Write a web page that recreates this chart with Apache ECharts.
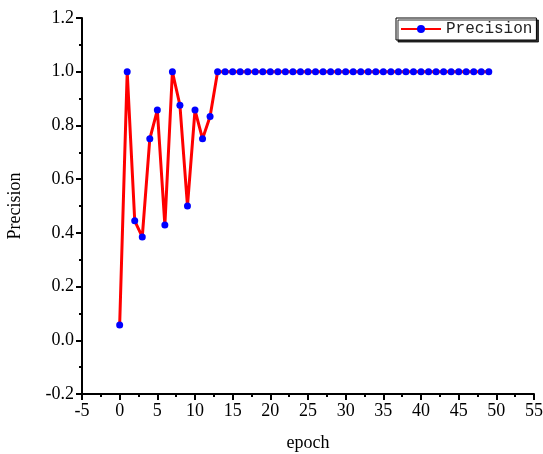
<!DOCTYPE html>
<html><head><meta charset="utf-8">
<script src="https://cdn.jsdelivr.net/npm/echarts@6/dist/echarts.min.js"></script>
<style>html,body{margin:0;padding:0;background:#fff}#c{width:543px;height:454px}</style>
</head><body><div id="c"></div>
<script>
const epochs = [];
for (let i = 0; i < 50; i++) epochs.push(i);
const precision = [0.057, 1.0, 0.445, 0.385, 0.75, 0.857, 0.429, 1.0, 0.875, 0.5,
  0.857, 0.75, 0.833, 1.0, 1.0, 1.0, 1.0, 1.0, 1.0, 1.0,
  1.0, 1.0, 1.0, 1.0, 1.0, 1.0, 1.0, 1.0, 1.0, 1.0,
  1.0, 1.0, 1.0, 1.0, 1.0, 1.0, 1.0, 1.0, 1.0, 1.0,
  1.0, 1.0, 1.0, 1.0, 1.0, 1.0, 1.0, 1.0, 1.0, 1.0];
const seriesName = 'Precision';
const xName = 'epoch';
const yName = 'Precision';

const chart = echarts.init(document.getElementById('c'), null, {renderer: 'canvas'});
const font = 'Liberation Serif';
chart.setOption({
  animation: false,
  backgroundColor: '#fff',
  grid: {left: 82, right: 9, top: 18, bottom: 60, containLabel: false, outerBoundsMode: 'none'},
  legend: {
    show: true,
    left: 396, top: 18,
    padding: [3, 4, 3, 4],
    itemWidth: 40, itemHeight: 10, itemGap: 6,
    backgroundColor: '#fff',
    borderColor: '#000', borderWidth: 1,
    shadowColor: 'rgba(0,0,0,0.8)', shadowOffsetX: 2, shadowOffsetY: 2, shadowBlur: 0,
    textStyle: {fontFamily: 'Liberation Mono', fontSize: 16, color: '#222'},
    data: [seriesName]
  },
  xAxis: {
    type: 'value', min: -5, max: 55, interval: 5,
    name: xName, nameLocation: 'middle', nameGap: 40,
    nameTextStyle: {fontFamily: font, fontSize: 18, color: '#000'},
    axisLine: {show: true, onZero: false, lineStyle: {color: '#000', width: 2}},
    axisTick: {show: true, inside: false, length: 6, lineStyle: {color: '#000', width: 2}},
    minorTick: {show: true, splitNumber: 2, length: 3, lineStyle: {color: '#000', width: 2}},
    splitLine: {show: false},
    axisLabel: {fontFamily: font, fontSize: 18, color: '#000', margin: 8}
  },
  yAxis: {
    type: 'value', min: -0.2, max: 1.2, interval: 0.2,
    name: yName, nameLocation: 'middle', nameGap: 58, nameRotate: 90,
    nameTextStyle: {fontFamily: font, fontSize: 18, color: '#000'},
    axisLine: {show: true, onZero: false, lineStyle: {color: '#000', width: 2}},
    axisTick: {show: true, inside: false, length: 6, lineStyle: {color: '#000', width: 2}},
    minorTick: {show: true, splitNumber: 2, length: 3, lineStyle: {color: '#000', width: 2}},
    splitLine: {show: false},
    axisLabel: {fontFamily: font, fontSize: 18, color: '#000', margin: 8,
      formatter: v => v.toFixed(1)}
  },
  series: [{
    name: seriesName, type: 'line',
    data: epochs.map((e, i) => [e, precision[i]]),
    lineStyle: {color: '#ff0000', width: 3},
    itemStyle: {color: '#0000ff'},
    symbol: 'circle', symbolSize: 7, showSymbol: true
  }]
});
</script></body></html>
